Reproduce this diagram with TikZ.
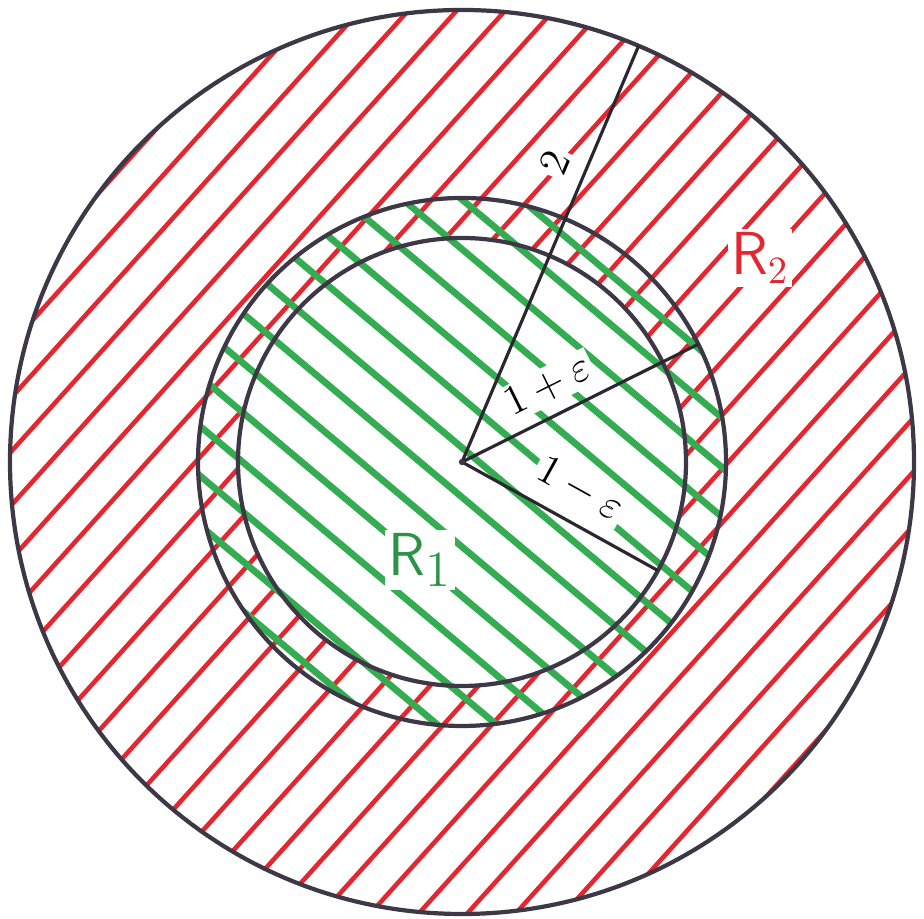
\documentclass[tikz,border=0pt]{standalone}
\usepackage{amsmath, amssymb}
\usetikzlibrary{positioning}
\definecolor{hatchred}{RGB}{228,38,48}
\definecolor{hatchgreen}{RGB}{52,172,82}
\definecolor{pen}{RGB}{62,56,70}
\tikzset{
  redhatch/.style={hatchred, line width=1.3pt, line cap=round},
  greenhatch/.style={hatchgreen, line width=1.9pt, line cap=round},
  rim/.style={pen, line width=1.2pt},
  radius line/.style={pen!70!black, line width=0.9pt},
  lbl/.style={fill=white, inner sep=1pt, font=\sffamily\fontsize{13}{15}\selectfont}
}

\begin{document}
\begin{tikzpicture}
  \useasboundingbox (0,0) rectangle (9.24,9.19);
  \def\rout{4.52} \def\rmid{2.64} \def\rin{2.24}
  \coordinate (O) at (4.62,4.57);
  \coordinate (P2) at ([shift={(67:\rout)}]O);
  \coordinate (Pp) at ([shift={(26.5:\rmid)}]O);
  \coordinate (Pm) at ([shift={(-29:\rin)}]O);
  % R_2
  \begin{scope}
    \clip (O) circle (\rout);
    \foreach \d in {-4.5,-4.14,...,4.6}
      \draw[redhatch] ([shift={(138:\d)}]O) ++(228:5) -- ++(48:10);
  \end{scope}
  \fill[white] (O) circle (\rin);
  % R_1
  \begin{scope}
    \clip (O) circle (\rmid);
    \foreach \d in {-2.55,-2.17,...,2.7}
      \draw[greenhatch] ([shift={(50:\d)}]O) ++(140:3) -- ++(-40:6);
  \end{scope}
  % labels
  \path (O) -- (P2) node[lbl, pos=0.69, sloped, above=4pt] (l2) {$2$};
  \path (O) -- (Pp) node[lbl, pos=0.42, sloped, above=3pt] (lp) {$1+\varepsilon$};
  \path (O) -- (Pm) node[lbl, pos=0.52, sloped, above=4pt] (lm) {$1-\varepsilon$};
  \node[lbl, text=hatchred, font=\sffamily\fontsize{16}{18}\selectfont] (R2) at (7.60,6.61) {$\mathsf{R}_2$};
  \node[lbl, text=hatchgreen!85!black, font=\sffamily\fontsize{19}{21}\selectfont] (R1) at (4.20,3.59) {$\mathsf{R}_1$};
  % circles and radii
  \draw[rim] (O) circle (\rout);
  \draw[rim] (O) circle (\rmid);
  \draw[rim] (O) circle (\rin);
  \draw[radius line] (O) -- (P2);
  \draw[radius line] (O) -- (Pp);
  \draw[radius line] (O) -- (Pm);
  \fill[pen] (O) circle (0.9pt);
\end{tikzpicture}
\end{document}
